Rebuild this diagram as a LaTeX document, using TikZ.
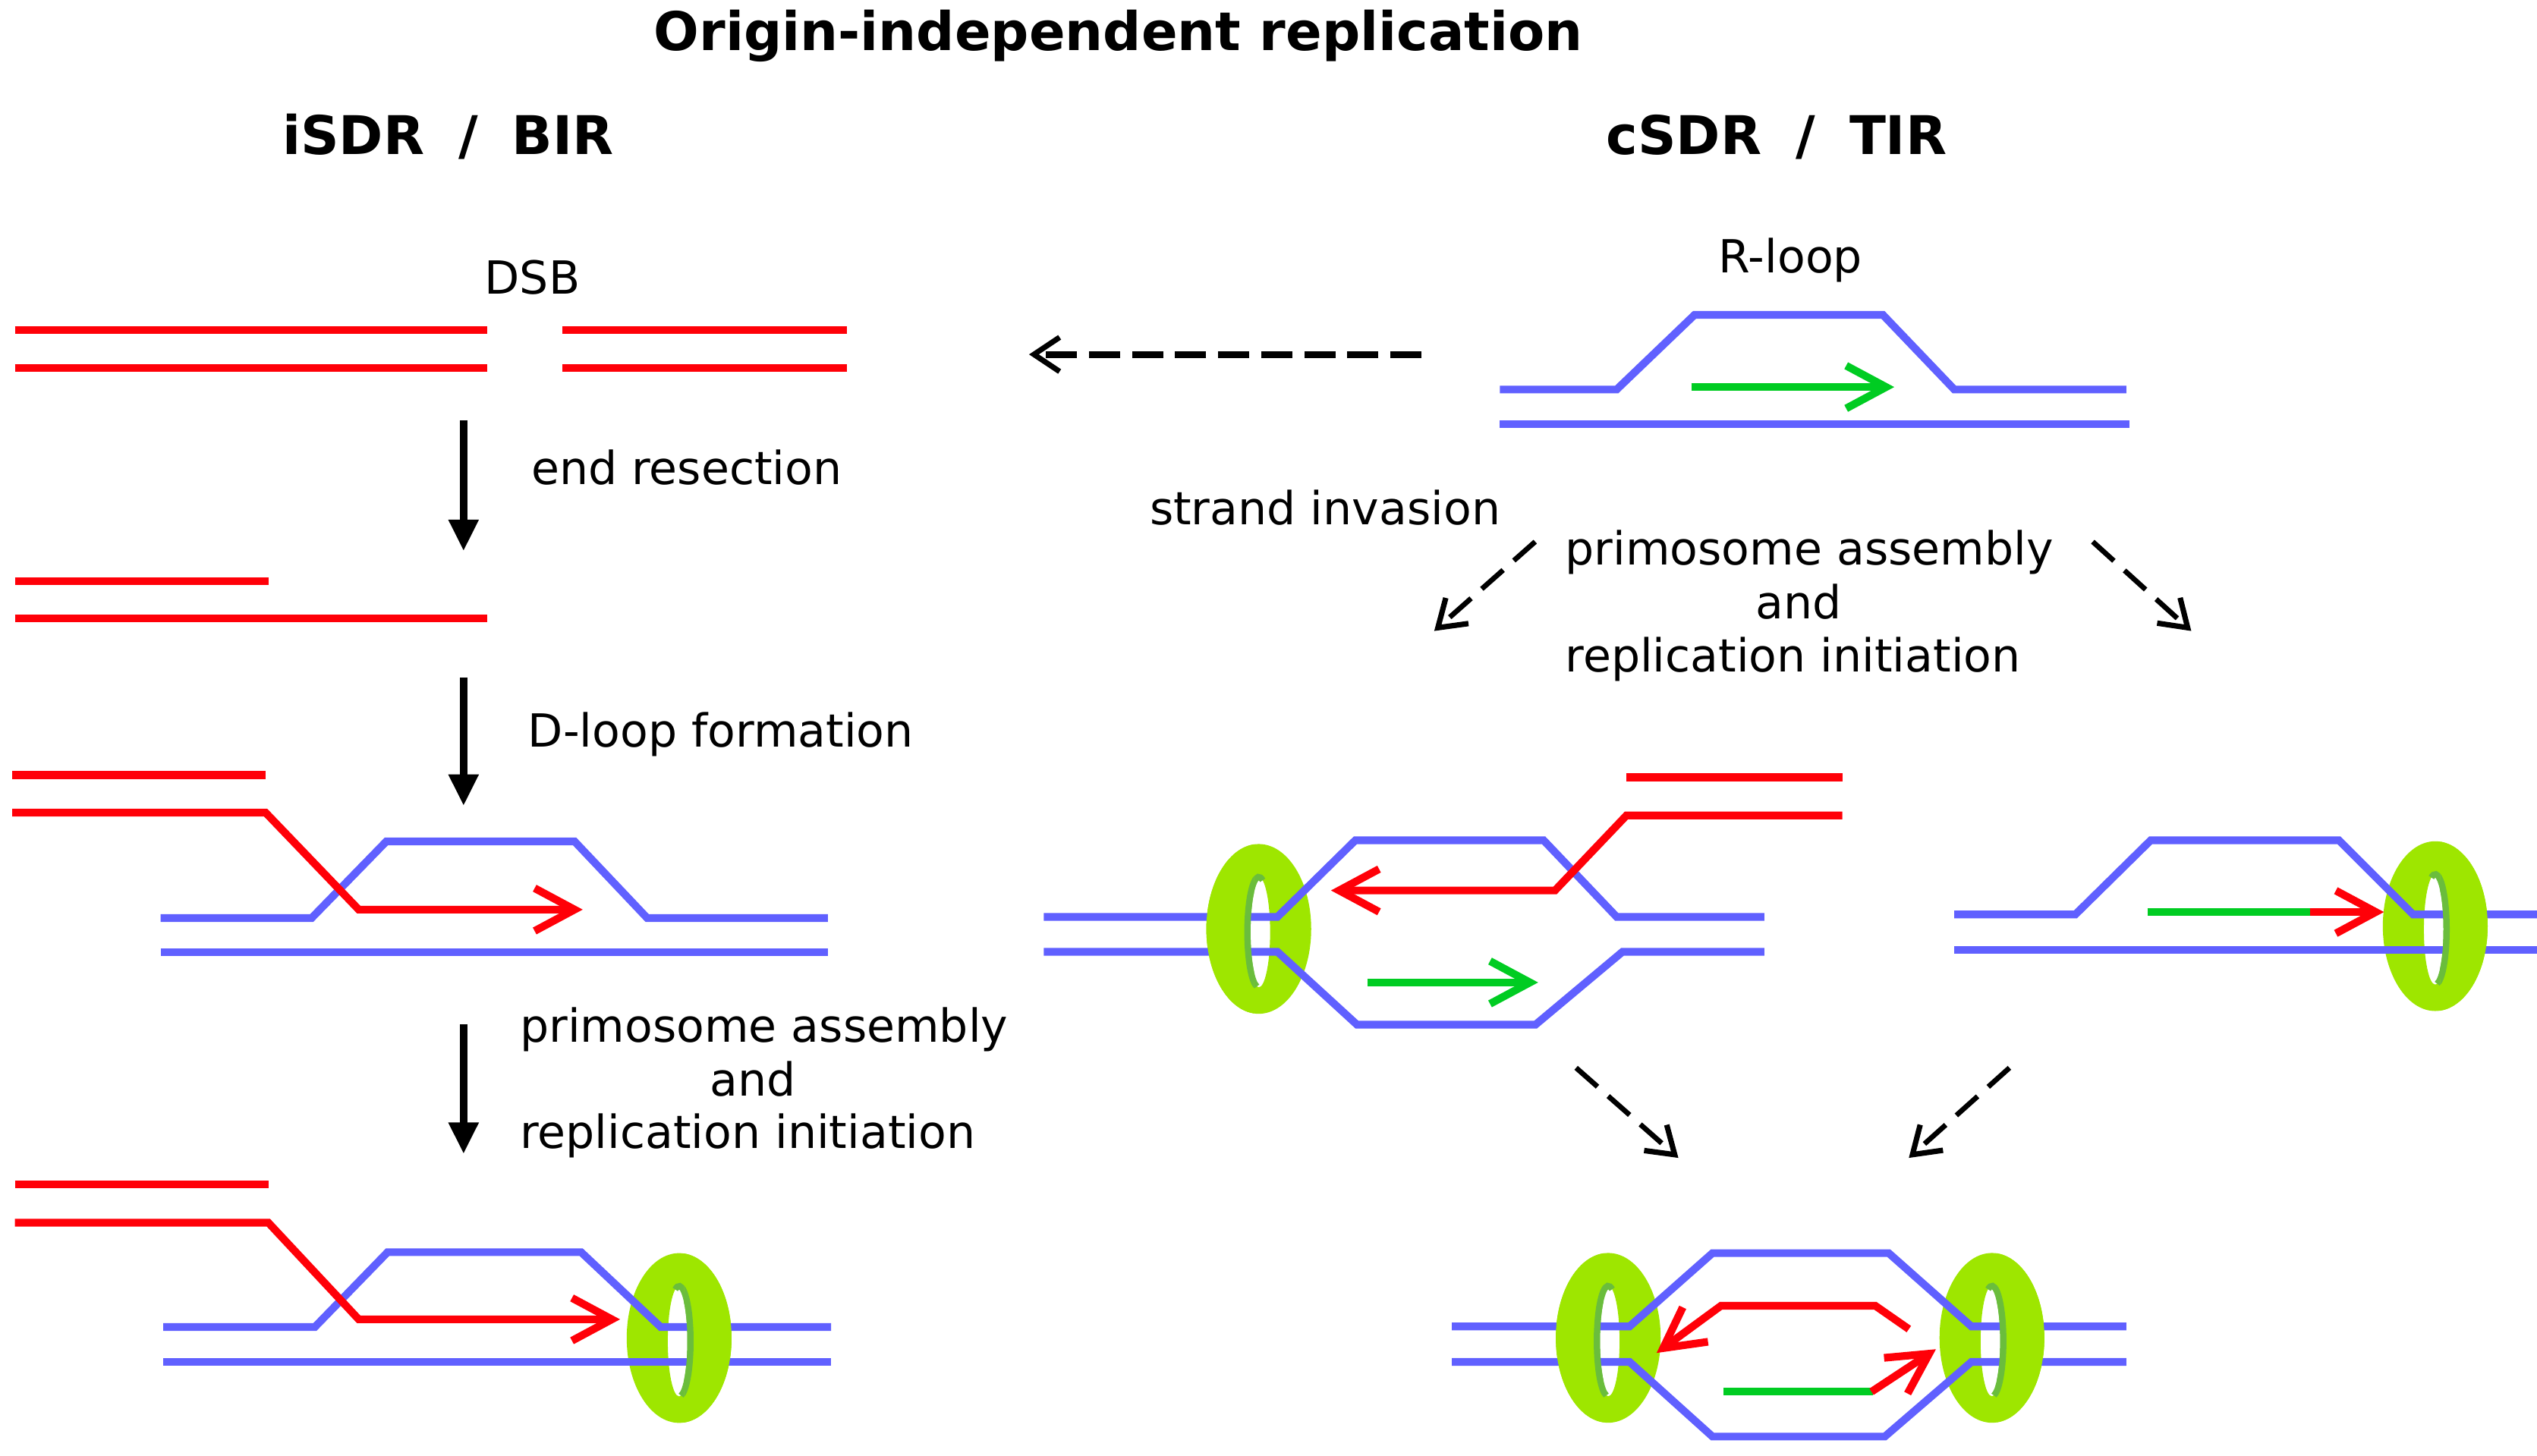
\documentclass[tikz,border=0pt]{standalone}
\usepackage{fontspec}
\setmainfont{DejaVu Sans}
\usetikzlibrary{arrows.meta}
\definecolor{dnablue}{HTML}{6060FF}
\definecolor{dnared}{HTML}{FF0008}
\definecolor{primgreen}{HTML}{00CC22}
\definecolor{ringgreen}{HTML}{9EE600}
\definecolor{rimgreen}{HTML}{6ABD3C}
\newcommand\RingShape[3]{%
  \fill[ringgreen, even odd rule] (#1,#2) ellipse [x radius=32.3, y radius=52.3]
        ({#1},{#2+2}) ellipse [x radius=7, y radius=34];
  \draw[rimgreen, line width=2.2pt] ({#1},{#2+2}) ++({-90-20*(#3)}:7 and 34)
        arc [start angle={-90-20*(#3)}, end angle={-90+170*(#3)}, x radius=7, y radius=34];
}
\newcommand\RingFront[3]{%
  \begin{scope}
    \clip ({#1+3*(#3)},{#2-60}) rectangle ({#1+40*(#3)},{#2+60});
    \RingShape{#1}{#2}{#3}
  \end{scope}%
}
\begin{document}
\begin{tikzpicture}[x=0.02cm,y=-0.02cm,
  strand/.style={line width=2.7pt},
  bstrand/.style={strand, draw=dnablue},
  rstrand/.style={strand, draw=dnared},
  gstrand/.style={strand, draw=primgreen},
  barb/.style={-{Straight Barb[length=14pt,width=15pt]}},
  steparrow/.style={line width=2.6pt, -{Triangle[length=11pt,width=10pt]}},
  dashh/.style={line width=2.4pt, dash pattern=on 10.9pt off 4.2pt, -{Straight Barb[length=9pt,width=12pt,line width=1.9pt]}},
  dashd/.style={line width=1.8pt, dash pattern=on 10pt off 5pt, -{Straight Barb[length=9pt,width=12pt,line width=1.9pt]}},
  titlefont/.style={font=\fontsize{18.7}{22}\selectfont\bfseries, inner sep=0pt},
  lab/.style={font=\fontsize{16}{19}\selectfont, inner sep=0pt}]
\useasboundingbox (0,0) rectangle (1563,897);

% ---- headings
\node[titlefont, anchor=base] (title) at (689,30.9) {Origin-independent replication};
\node[titlefont, anchor=base] (lefthead) at (276,95.3) {iSDR\hspace{0.64em}/\hspace{0.64em}BIR};
\node[titlefont, anchor=base] (righthead) at (1094.5,95.3) {cSDR\hspace{0.64em}/\hspace{0.64em}TIR};

% ---- labels left
\node[lab, anchor=base] (dsb) at (328,181.2) {DSB};
\node[lab, anchor=base west] (endres) at (327,298.7) {end resection};
\node[lab, anchor=base west] (dloop) at (325,460.3) {D-loop formation};
\node[lab, anchor=base west] (lprim1) at (320,642) {primosome assembly};
\node[lab, anchor=base] (lprim2) at (464,675.3) {and};
\node[lab, anchor=base west] (lprim3) at (320,707.8) {replication initiation};

% ---- labels right
\node[lab, anchor=base] (rloop) at (1103,168) {R-loop};
\node[lab, anchor=base west] (sinv) at (708,323.5) {strand invasion};
\node[lab, anchor=base west] (rprim1) at (964,348) {primosome assembly};
\node[lab, anchor=base] (rprim2) at (1108,381.5) {and};
\node[lab, anchor=base west] (rprim3) at (964,414.2) {replication initiation};

% ---- step arrows
\coordinate (a1s) at (285.6,259);   \coordinate (a1e) at (285.6,339.5);
\coordinate (a2s) at (285.6,417.3); \coordinate (a2e) at (285.6,496.5);
\coordinate (a3s) at (285.6,631);   \coordinate (a3e) at (285.6,711);
\draw[steparrow] (a1s) -- (a1e);
\draw[steparrow] (a2s) -- (a2e);
\draw[steparrow] (a3s) -- (a3e);

\coordinate (d0s) at (875.7,218.4); \coordinate (d0e) at (634,218.4);
\coordinate (d1s) at (945.8,333.8); \coordinate (d1e) at (883.6,388.8);
\coordinate (d2s) at (1289.3,333.8); \coordinate (d2e) at (1350,388.8);
\coordinate (d3s) at (971,658);     \coordinate (d3e) at (1034,713.5);
\coordinate (d4s) at (1238,658);    \coordinate (d4e) at (1176,713.5);
\draw[dashh] (d0s) -- (d0e);
\draw[dashd] (d1s) -- (d1e);
\draw[dashd] (d2s) -- (d2e);
\draw[dashd] (d3s) -- (d3e);
\draw[dashd] (d4s) -- (d4e);

% ---- ring backs
\RingShape{418.4}{824.5}{1}
\RingShape{775.5}{572.4}{-1}
\RingShape{1500.3}{570.7}{1}
\RingShape{990.8}{824.4}{-1}
\RingShape{1227.2}{824.4}{1}

% ---- DSB
\draw[rstrand] (9.2,203.4) -- (300,203.4);
\draw[rstrand] (9.2,226.8) -- (300,226.8);
\draw[rstrand] (346.5,203.4) -- (522,203.4);
\draw[rstrand] (346.5,226.8) -- (522,226.8);

% ---- resected
\draw[rstrand] (9.2,358) -- (165.3,358);
\draw[rstrand] (9.2,381.1) -- (300,381.1);

% ---- D-loop
\draw[bstrand] (99,565.7) -- (192,565.7) -- (238,518.5) -- (354,518.5) -- (398.7,565.7) -- (510,565.7);
\draw[bstrand] (99,586.7) -- (510,586.7);
\draw[rstrand] (7.5,477.6) -- (163.6,477.6);
\draw[rstrand, barb] (7.5,500.7) -- (163.6,500.7) -- (221,560.5) -- (359,560.5);

% ---- BIR replisome
\draw[bstrand] (100.6,817.7) -- (194,817.7) -- (238.8,771.6) -- (358,771.6) -- (407,817.7) -- (512,817.7);
\draw[bstrand] (100.6,839.4) -- (512,839.4);
\draw[rstrand] (9.2,729.7) -- (165.3,729.7);
\draw[rstrand, barb] (9.2,753.4) -- (165.3,753.4) -- (221,813) -- (382,813);

% ---- R-loop
\draw[bstrand] (924,240) -- (996,240) -- (1044,194) -- (1160,194) -- (1204,240) -- (1310,240);
\draw[bstrand] (924,261.4) -- (1312,261.4);
\draw[gstrand, barb] (1042,238.5) -- (1167,238.5);

% ---- strand invasion intermediate
\draw[bstrand] (643,565) -- (787,565) -- (835,517.8) -- (951,517.8) -- (996,565) -- (1087,565);
\draw[bstrand] (643,586.5) -- (787,586.5) -- (836,631.4) -- (946,631.4) -- (999.6,586.5) -- (1087,586.5);
\draw[rstrand] (1135,479) -- (1002,479);
\draw[rstrand, barb] (1135,502.5) -- (1002,502.5) -- (958,548.7) -- (820,548.7);
\draw[gstrand, barb] (842.5,605.4) -- (947.6,605.4);

% ---- R-loop primed intermediate
\draw[bstrand] (1204,563.5) -- (1278.6,563.5) -- (1325,517.8) -- (1441,517.8) -- (1486.7,563.5) -- (1563,563.5);
\draw[bstrand] (1204,585.4) -- (1563,585.4);
\draw[gstrand] (1323,562) -- (1424,562);
\draw[rstrand, barb] (1423,562) -- (1468.7,562);

% ---- converged bubble
\draw[bstrand] (894.5,817.4) -- (1003.9,817.4) -- (1055,772.2) -- (1163.6,772.2) -- (1214.6,817.4) -- (1310,817.4);
\draw[bstrand] (894.5,839.2) -- (1003.9,839.2) -- (1055,885.2) -- (1161.2,885.2) -- (1214.6,839.2) -- (1310,839.2);
\draw[rstrand, barb] (1176,819) -- (1155.3,804.6) -- (1060.3,804.6) -- (1020.6,833.7);
\draw[gstrand] (1061.7,857.6) -- (1154,857.6);
\draw[rstrand, barb] (1153,857.6) -- (1192.7,831.4);

% ---- ring fronts
\RingFront{418.4}{824.5}{1}
\RingFront{775.5}{572.4}{-1}
\RingFront{1500.3}{570.7}{1}
\RingFront{990.8}{824.4}{-1}
\RingFront{1227.2}{824.4}{1}
\end{tikzpicture}
\end{document}
